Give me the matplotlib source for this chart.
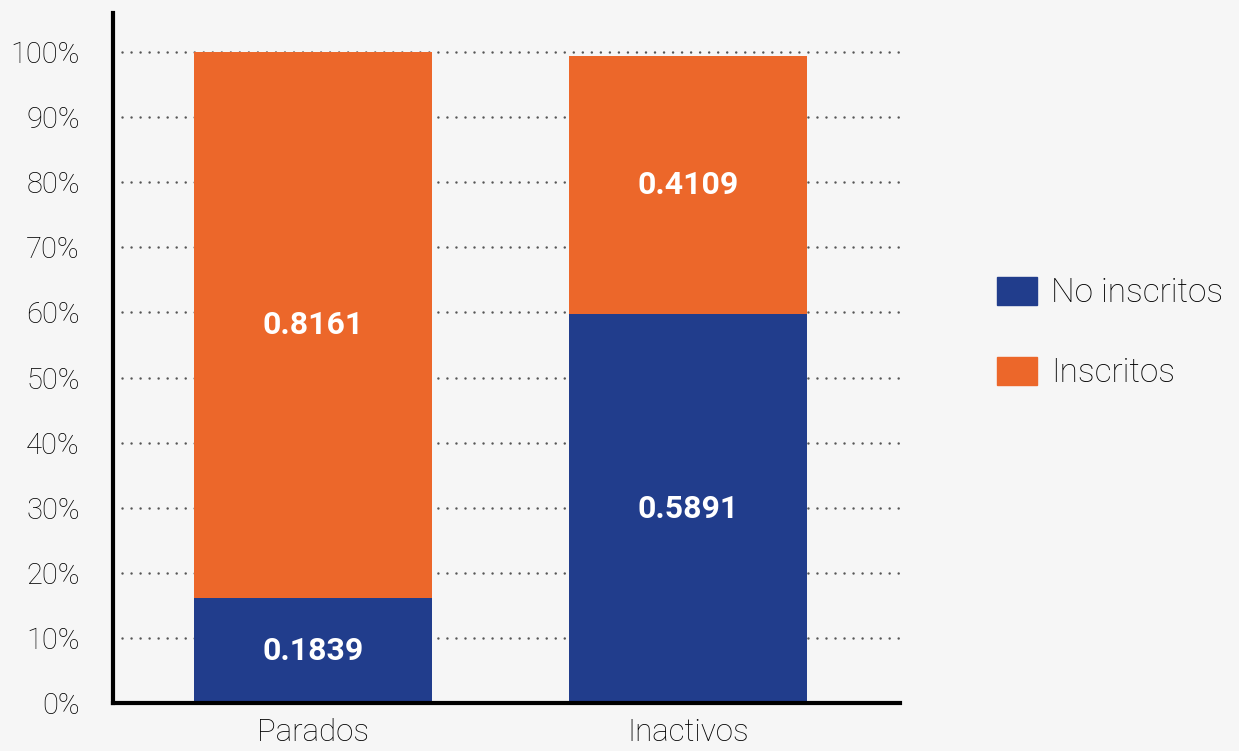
import matplotlib.pyplot as plt
from matplotlib.patches import Patch

# data
categorias = ["Parados", "Inactivos"]
no_inscritos = [16.1, 59.75]      # bar heights as drawn (%)
inscritos = [83.9, 39.7]
etiq_no_inscritos = ["0.1839", "0.5891"]
etiq_inscritos = ["0.8161", "0.4109"]
yticks = list(range(0, 101, 10))

azul = "#213D8C"
naranja = "#EC672A"
fondo = "#F6F6F6"

plt.rcParams['font.family'] = ['Roboto', 'DejaVu Sans']

fig = plt.figure(figsize=(12.39, 7.51), dpi=100, facecolor=fondo)
ax = fig.add_axes([113 / 1239, 48 / 751, 787 / 1239, 690 / 751], facecolor=fondo)

x = list(range(len(categorias)))
ax.bar(x, no_inscritos, width=0.635, color=azul, zorder=3)
ax.bar(x, inscritos, width=0.635, bottom=no_inscritos, color=naranja, zorder=3)

# value labels centred in each segment
for i in x:
    ax.text(i, no_inscritos[i] / 2, etiq_no_inscritos[i], color="white",
            fontsize=23, fontweight="bold", ha="center", va="center", zorder=4)
    ax.text(i, no_inscritos[i] + inscritos[i] / 2, etiq_inscritos[i], color="white",
            fontsize=23, fontweight="bold", ha="center", va="center", zorder=4)

ax.set_xlim(-0.533, 1.565)
ax.set_ylim(0, 106)
ax.set_yticks(yticks)
ax.set_yticklabels([f"{t}%" for t in yticks], fontsize=21, fontweight="light", color="black")
ax.set_xticks(x)
ax.set_xticklabels(categorias, fontsize=22.5, fontweight="light", color="black")
ax.tick_params(axis="y", length=0, pad=24)
ax.tick_params(axis="x", length=0, pad=11)

ax.grid(axis="y", color="#555555", linewidth=1.8, linestyle=(0, (0.01, 3.6)),
        dash_capstyle="round", zorder=1)
ax.grid(axis="x", visible=False)

for side in ["top", "right"]:
    ax.spines[side].set_visible(False)
for side in ["left", "bottom"]:
    ax.spines[side].set_linewidth(3)
    ax.spines[side].set_color("black")
    ax.spines[side].set_zorder(5)

handles = [Patch(color=azul, label="No inscritos"),
           Patch(color=naranja, label="Inscritos")]
fig.legend(handles=handles, loc="center left", bbox_to_anchor=(997 / 1239, 1 - 333 / 751),
           frameon=False, prop={"weight": "light", "size": 24},
           handlelength=1.2, handleheight=0.94, handletextpad=0.42,
           labelspacing=1.42, borderpad=0, borderaxespad=0)

fig.savefig("out.png", dpi=100, facecolor=fondo)
